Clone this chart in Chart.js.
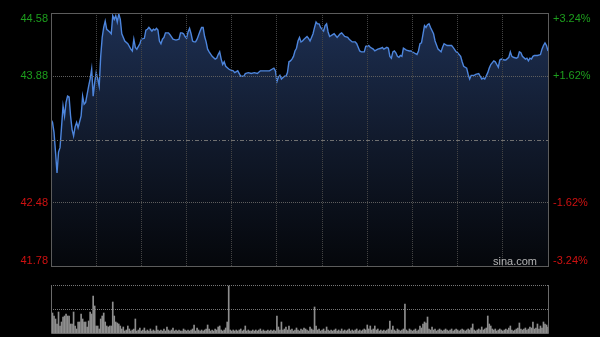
<!DOCTYPE html>
<html>
<head>
<meta charset="utf-8">
<script src="https://cdn.jsdelivr.net/npm/chart.js@4.4.0/dist/chart.umd.min.js"></script>
<style>
html, body { margin: 0; padding: 0; background: #000; }
#wrap { position: relative; width: 600px; height: 337px; overflow: hidden; background: #000; }
#price { position: absolute; left: 0; top: 0; }
#vol { position: absolute; left: 0; top: 280px; }
</style>
</head>
<body>
<div id="wrap">
  <canvas id="price" width="600" height="270"></canvas>
  <canvas id="vol" width="600" height="57"></canvas>
</div>
<script>
// minute of the trading day (0 = 09:30, 330 = 16:00) and last price
const minutes = [0,1,2,3,4,5,6,7,8,9,
  10,11,12,13,14,15,16,17,18,20,
  21,22,23,25,26,27,28,29,30,31,
  32,33,34,35,36,37,39,40,41,42,
  43,44,45,46,47,49,51,53,54,55,
  56,57,59,60,62,63,64,65,67,68,
  69,70,71,72,73,74,75,76,78,79,
  81,83,85,86,87,88,89,90,91,92,
  93,94,95,96,97,99,100,101,102,103,
  104,105,107,109,110,111,112,113,114,115,
  116,118,119,121,122,124,125,126,128,129,
  131,133,135,137,139,141,143,145,147,148,
  149,150,151,152,153,155,156,157,158,159,
  160,161,162,163,164,165,166,167,168,170,
  171,172,173,174,175,176,177,178,179,181,
  182,183,184,185,187,188,190,192,193,195,
  197,198,200,202,203,205,206,208,209,211,
  212,214,215,217,219,220,221,223,224,225,
  226,227,228,229,230,231,232,233,234,236,
  238,239,241,243,244,245,246,248,249,250,
  251,252,254,255,257,259,260,261,263,264,
  266,267,269,270,272,273,274,276,277,278,
  279,281,282,284,285,286,287,288,290,291,
  292,294,295,296,297,298,299,301,302,304,
  305,306,307,309,310,311,312,313,315,316,
  317,318,319,320,321,323,325,326,327,328,
  329,330];

const prices = [43.40,43.37,43.26,43.04,42.81,43.04,43.09,43.32,43.55,43.44,
  43.59,43.66,43.65,43.44,43.29,43.22,43.32,43.37,43.31,43.44,
  43.66,43.57,43.59,43.77,43.85,43.96,43.66,43.81,43.92,43.85,
  43.77,44.10,44.31,44.42,44.49,44.40,44.37,44.35,44.55,44.51,
  44.55,44.48,44.57,44.51,44.35,44.27,44.24,44.18,44.16,44.29,
  44.20,44.18,44.24,44.29,44.30,44.39,44.40,44.42,44.38,44.40,
  44.39,44.41,44.39,44.27,44.24,44.29,44.31,44.36,44.36,44.34,
  44.29,44.28,44.29,44.36,44.36,44.35,44.32,44.30,44.37,44.41,
  44.35,44.27,44.26,44.26,44.29,44.38,44.42,44.42,44.32,44.26,
  44.18,44.15,44.10,44.07,44.08,44.12,44.15,44.07,44.01,44.04,
  43.99,43.96,43.95,43.94,43.92,43.94,43.91,43.88,43.88,43.91,
  43.92,43.91,43.92,43.91,43.94,43.94,43.94,43.94,43.96,43.97,
  43.94,43.82,43.87,43.89,43.85,43.88,43.88,43.92,44.04,44.05,
  44.07,44.10,44.16,44.19,44.27,44.31,44.26,44.27,44.29,44.32,
  44.30,44.27,44.31,44.35,44.42,44.48,44.46,44.46,44.42,44.38,
  44.44,44.46,44.37,44.32,44.34,44.35,44.31,44.35,44.36,44.32,
  44.31,44.29,44.26,44.26,44.24,44.16,44.15,44.15,44.21,44.22,
  44.20,44.18,44.16,44.18,44.19,44.20,44.18,44.20,44.19,44.10,
  44.08,44.15,44.16,44.14,44.10,44.09,44.11,44.10,44.19,44.17,
  44.16,44.16,44.14,44.12,44.16,44.24,44.25,44.44,44.42,44.45,
  44.46,44.42,44.35,44.27,44.18,44.15,44.20,44.24,44.22,44.22,
  44.22,44.20,44.15,44.14,44.10,44.04,43.99,43.97,43.90,43.85,
  43.89,43.89,43.90,43.91,43.88,43.85,43.86,43.85,43.92,43.97,
  44.01,44.05,44.04,44.01,43.98,44.06,44.07,44.06,44.06,44.09,
  44.15,44.10,44.09,44.08,44.09,44.15,44.14,44.10,44.07,44.08,
  44.05,44.08,44.07,44.10,44.11,44.11,44.12,44.18,44.22,44.25,
  44.22,44.16];

// volume per minute, index = minute
const volumes = [200,200,170,140,90,210,70,110,160,170,
  190,170,170,90,90,210,70,40,110,110,
  190,140,110,110,60,120,210,190,370,270,
  70,70,40,140,170,200,110,70,60,70,
  70,310,170,110,100,90,70,40,60,20,
  30,70,40,20,30,40,140,20,30,50,
  20,30,50,20,30,20,40,20,30,20,
  70,30,20,30,20,40,20,60,30,20,
  30,50,20,30,20,30,20,20,40,30,
  20,30,20,30,40,80,20,50,30,20,
  30,20,30,40,80,40,20,30,20,40,
  30,60,70,30,20,30,50,110,470,30,
  20,30,20,30,20,30,40,20,30,70,
  20,30,20,20,30,20,30,20,30,40,
  20,30,20,20,30,20,30,20,30,20,
  170,60,30,110,30,40,60,30,70,30,
  40,20,30,50,30,20,40,30,50,40,
  30,20,60,40,30,260,70,30,40,20,
  30,40,20,60,30,20,30,20,30,40,
  20,30,20,40,20,30,20,30,40,20,
  30,20,30,40,20,30,20,30,40,30,
  80,40,70,30,40,70,30,40,20,30,
  20,30,20,30,40,120,30,70,30,20,
  40,30,20,30,40,290,30,20,40,30,
  20,30,40,20,30,70,50,90,110,100,
  160,40,30,60,30,40,20,30,40,30,
  20,30,40,30,20,30,40,20,30,40,
  30,20,30,40,30,20,30,40,30,50,
  90,30,20,30,40,30,60,30,40,50,
  170,90,70,40,30,40,20,30,40,30,
  20,30,40,30,50,70,30,20,30,40,
  50,100,40,30,40,50,30,40,60,50,
  110,40,50,90,40,70,50,110,90,80,
  60];

const prevClose = 43.18;
const priceTicks = [44.58, 43.88, 42.48, 41.78];
const pctTicks = [3.24, 1.62, -1.62, -3.24];
const timeGrid = [30, 60, 90, 120, 150, 180, 210, 240, 270, 300];
const volGrid = [240, 480];

const FONT = '11px "Liberation Sans", Arial, sans-serif';
const UP = '#1d9e1d';
const DOWN = '#cf1111';

const priceDecor = {
  id: 'priceDecor',
  afterDatasetsDraw(chart) {
    const {ctx, chartArea: a, scales} = chart;
    // previous close line
    const yc = Math.round(scales.y.getPixelForValue(prevClose)) + 0.5;
    ctx.save();
    ctx.strokeStyle = '#707070';
    ctx.lineWidth = 1;
    ctx.setLineDash([4, 2, 1, 2]);
    ctx.beginPath();
    ctx.moveTo(a.left, yc);
    ctx.lineTo(a.right, yc);
    ctx.stroke();
    ctx.restore();
  },
  afterDraw(chart) {
    const {ctx, chartArea: a, scales} = chart;
    ctx.save();
    ctx.strokeStyle = '#5c5c5c';
    ctx.lineWidth = 1;
    ctx.strokeRect(a.left + 0.5, a.top + 0.5, a.right - a.left, a.bottom - a.top);
    ctx.font = FONT;
    ctx.textBaseline = 'middle';
    const clampY = y => Math.min(Math.max(y, a.top + 6), a.bottom - 5);
    ctx.textAlign = 'right';
    priceTicks.forEach(v => {
      ctx.fillStyle = v > prevClose ? UP : DOWN;
      ctx.fillText(v.toFixed(2), a.left - 3, clampY(scales.y.getPixelForValue(v)));
    });
    ctx.textAlign = 'left';
    pctTicks.forEach(v => {
      ctx.fillStyle = v > 0 ? UP : DOWN;
      const txt = (v > 0 ? '+' : '') + v.toFixed(2) + '%';
      ctx.fillText(txt, a.right + 5, clampY(scales.y2.getPixelForValue(v)));
    });
    ctx.fillStyle = '#b4b4b4';
    ctx.textAlign = 'right';
    ctx.fillText('sina.com', a.right - 11, a.bottom - 4);
    ctx.restore();
  }
};

new Chart(document.getElementById('price'), {
  type: 'line',
  data: {
    datasets: [{
      data: minutes.map((m, i) => ({x: m, y: prices[i]})),
      borderColor: '#4d85dc',
      borderWidth: 1.4,
      pointRadius: 0,
      tension: 0,
      fill: 'start',
      backgroundColor: function(context) {
        const {ctx, chartArea} = context.chart;
        if (!chartArea) return '#15233d';
        const g = ctx.createLinearGradient(0, chartArea.top, 0, chartArea.bottom);
        g.addColorStop(0, '#1d2f52');
        g.addColorStop(0.5, '#111a2c');
        g.addColorStop(1, '#05070b');
        return g;
      }
    }]
  },
  options: {
    responsive: false,
    animation: false,
    devicePixelRatio: 1,
    layout: { padding: { top: 13, bottom: 4, left: 0, right: 0 } },
    plugins: { legend: { display: false }, tooltip: { enabled: false } },
    scales: {
      x: {
        type: 'linear', min: 0, max: 330,
        afterBuildTicks: s => { s.ticks = timeGrid.map(v => ({value: v})); },
        ticks: { display: false },
        grid: { color: '#444', drawTicks: false, z: 1 },
        border: { display: false, dash: [1, 1] },
        afterFit: s => { s.height = 0; }
      },
      y: {
        position: 'left', min: 41.78, max: 44.58,
        afterBuildTicks: s => { s.ticks = [42.48, 43.88].map(v => ({value: v})); },
        ticks: { display: false },
        grid: { color: '#5e5e5e', drawTicks: false, z: 1 },
        border: { display: false, dash: [1, 1] },
        afterFit: s => { s.width = 51; }
      },
      y2: {
        position: 'right', min: -3.24, max: 3.24,
        ticks: { display: false },
        grid: { display: false },
        border: { display: false },
        afterFit: s => { s.width = 52; }
      }
    }
  },
  plugins: [priceDecor]
});

const volFrame = {
  id: 'volFrame',
  afterDraw(chart) {
    const {ctx, chartArea: a} = chart;
    ctx.save();
    ctx.strokeStyle = '#6a6a6a';
    ctx.lineWidth = 1;
    ctx.beginPath();
    ctx.moveTo(a.left + 0.5, a.top);
    ctx.lineTo(a.left + 0.5, a.bottom + 0.5);
    ctx.lineTo(a.right + 0.5, a.bottom + 0.5);
    ctx.lineTo(a.right + 0.5, a.top);
    ctx.stroke();
    ctx.restore();
  }
};

new Chart(document.getElementById('vol'), {
  type: 'bar',
  data: {
    datasets: [{
      data: volumes.map((v, i) => ({x: i, y: v})),
      backgroundColor: '#8e8e8e',
      barThickness: 1,
      borderWidth: 0
    }]
  },
  options: {
    responsive: false,
    animation: false,
    devicePixelRatio: 1,
    layout: { padding: { top: 5, bottom: 4, left: 0, right: 0 } },
    plugins: { legend: { display: false }, tooltip: { enabled: false } },
    scales: {
      x: {
        type: 'linear', min: 0, max: 330, offset: false,
        ticks: { display: false },
        grid: { display: false },
        border: { display: false },
        afterFit: s => { s.height = 0; }
      },
      y: {
        position: 'left', min: 0, max: 480,
        afterBuildTicks: s => { s.ticks = volGrid.map(v => ({value: v})); },
        ticks: { display: false },
        grid: { color: '#777', drawTicks: false, z: 1 },
        border: { display: false, dash: [1, 1] },
        afterFit: s => { s.width = 51; }
      },
      yr: {
        position: 'right', min: 0, max: 480,
        ticks: { display: false },
        grid: { display: false },
        border: { display: false },
        afterFit: s => { s.width = 52; }
      }
    }
  },
  plugins: [volFrame]
});
</script>
</body>
</html>
